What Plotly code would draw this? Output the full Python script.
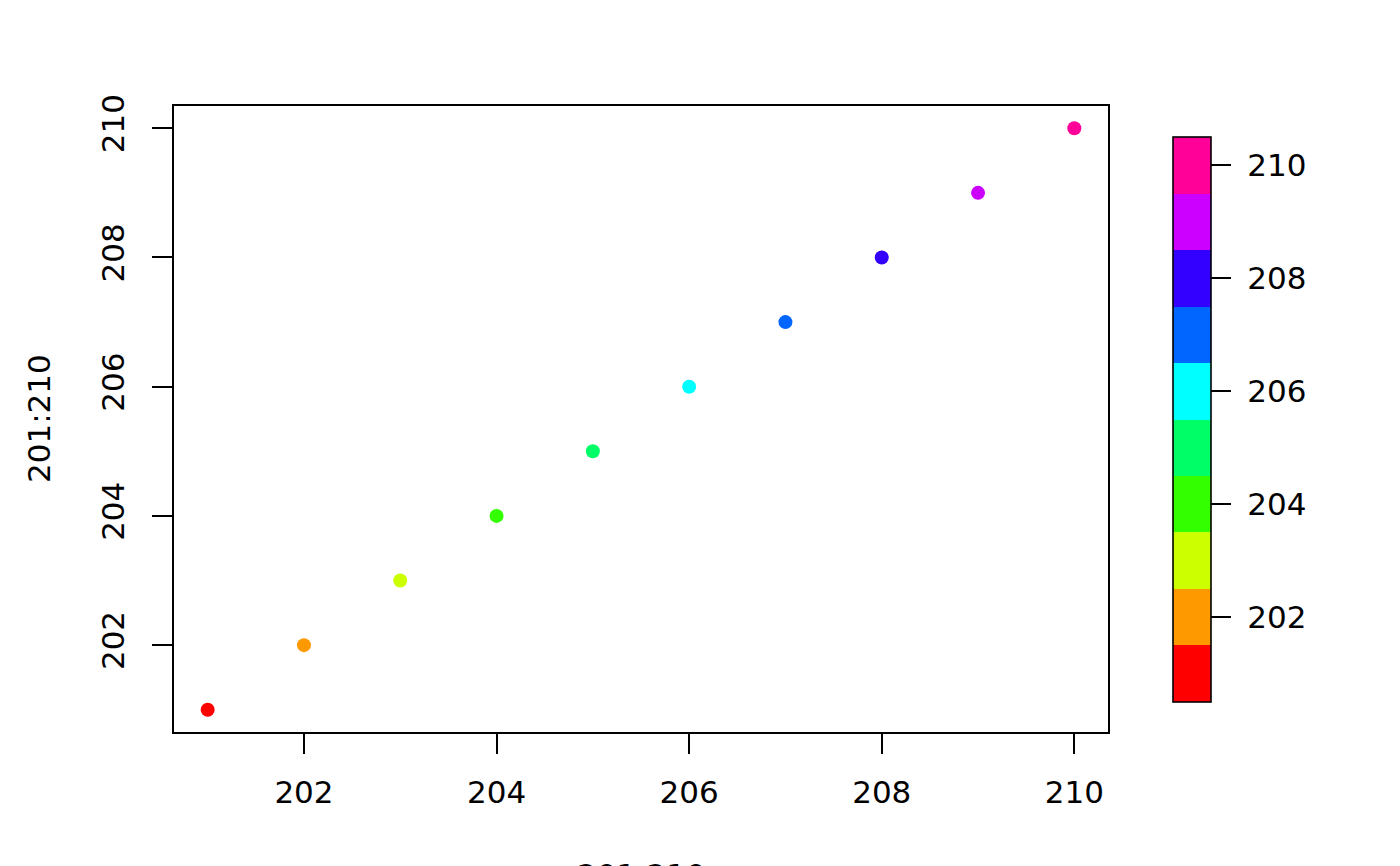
import plotly.graph_objects as go

x_vals = [201, 202, 203, 204, 205, 206, 207, 208, 209, 210]
y_vals = [201, 202, 203, 204, 205, 206, 207, 208, 209, 210]
z_vals = [201, 202, 203, 204, 205, 206, 207, 208, 209, 210]
colors = ["#FF0000", "#FF9900", "#CCFF00", "#33FF00", "#00FF66",
          "#00FFFF", "#0066FF", "#3300FF", "#CC00FF", "#FF0099"]
tick_vals = [202, 204, 206, 208, 210]
tick_text = ["202", "204", "206", "208", "210"]
x_title = "201:210"
y_title = "201:210"

n = len(colors)
cscale = []
for i, c in enumerate(colors):
    cscale.append([i / n, c])
    cscale.append([(i + 1) / n, c])

FONT = "DejaVu Sans"
FS = 31
OFF = 8  # page body margin
W, H = 1400 - OFF, 866 - OFF
L, R, T, B = 173 - OFF, 1400 - 1109, 105 - OFF, 866 - 733
pw = W - L - R
ph = H - T - B

fig = go.Figure()
fig.add_trace(go.Scatter(
    x=x_vals, y=y_vals, mode="markers",
    marker=dict(
        size=14, color=z_vals, colorscale=cscale, cmin=200.5, cmax=210.5,
        line=dict(width=0),
        colorbar=dict(
            thickness=38, thicknessmode="pixels",
            len=565, lenmode="pixels",
            x=(1173 - 173) / 936, xanchor="left", xpad=0,
            y=(733 - 419.5) / 628, yanchor="middle", ypad=0,
            outlinewidth=1.6, outlinecolor="black",
            tickvals=tick_vals, ticktext=["\u00a0" + t for t in tick_text],
            ticks="outside", ticklen=20, tickwidth=2, tickcolor="black",
            tickfont=dict(family=FONT, size=FS, color="black"),
        ),
    ),
    showlegend=False, hoverinfo="x+y",
))

fig.update_layout(
    width=W, height=H,
    margin=dict(l=L, r=R, t=T, b=B, pad=0),
    paper_bgcolor="white", plot_bgcolor="white",
    font=dict(family=FONT, size=FS, color="black"),
    xaxis=dict(range=[200.64, 210.36], tickvals=tick_vals, ticktext=tick_text,
               ticks="outside", ticklen=20, tickwidth=2, tickcolor="black",
               ticklabelstandoff=12,
               showgrid=False, zeroline=False, showline=False,
               tickfont=dict(family=FONT, size=FS, color="black")),
    yaxis=dict(range=[200.64, 210.36], tickvals=tick_vals, ticktext=tick_text,
               ticks="outside", ticklen=20, tickwidth=2, tickcolor="black",
               tickangle=-90, ticklabelstandoff=16,
               showgrid=False, zeroline=False, showline=False,
               tickfont=dict(family=FONT, size=FS, color="black")),
    shapes=[dict(type="rect", xref="paper", yref="paper", x0=0, x1=1, y0=0, y1=1,
                 line=dict(color="black", width=2), fillcolor="rgba(0,0,0,0)")],
    annotations=[
        dict(text=x_title, xref="paper", yref="paper", x=0.5, y=(733 - 855) / 628,
             xanchor="center", yanchor="top", showarrow=False,
             font=dict(family=FONT, size=FS, color="black")),
        dict(text=y_title, xref="paper", yref="paper", x=(39 - 173) / 936, y=0.5,
             xanchor="center", yanchor="middle", textangle=-90, showarrow=False,
             font=dict(family=FONT, size=FS, color="black")),
    ],
)

fig.write_html("out.html")
